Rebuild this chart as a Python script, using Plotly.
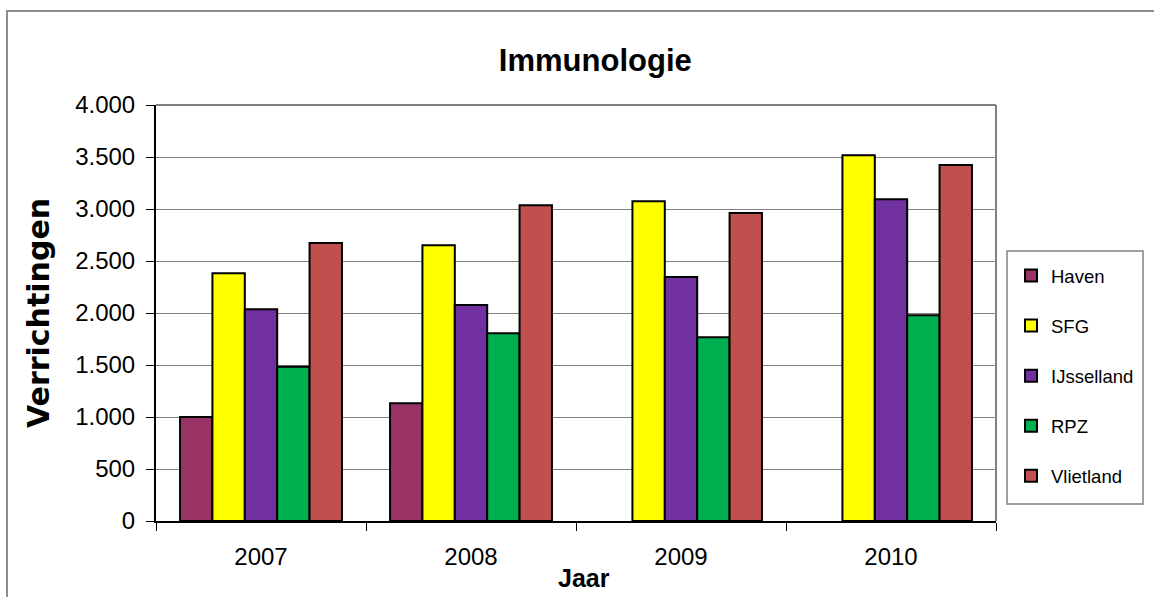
import plotly.graph_objects as go

years = ["2007", "2008", "2009", "2010"]
series_names = ["Haven", "SFG", "IJsselland", "RPZ", "Vlietland"]
haven = [1000, 1133, None, None]
sfg = [2383, 2651, 3075, 3518]
ijsselland = [2037, 2077, 2345, 3093]
rpz = [1482, 1806, 1768, 1979]
vlietland = [2672, 3036, 2961, 3422]
y_ticks = [0, 500, 1000, 1500, 2000, 2500, 3000, 3500, 4000]

colors = ["#993366", "#FFFF00", "#7030A0", "#00B050", "#C0504D"]
values = [haven, sfg, ijsselland, rpz, vlietland]

FONT = "Arial, Liberation Sans, sans-serif"

fig = go.Figure()
for name, vals, col in zip(series_names, values, colors):
    fig.add_trace(go.Bar(
        x=years, y=vals, name=name, legendgroup=name,
        marker=dict(color=col, line=dict(color="black", width=2)),
    ))

L, R, T, B = 156, 996, 105, 521
W, H = 1154, 597
pw, ph = R - L, B - T

def px(x):
    return (x - L) / pw

def py(y):
    return (B - y) / ph

fig.update_layout(
    width=W, height=H,
    margin=dict(l=L, r=W - R, t=T, b=H - B, pad=0),
    paper_bgcolor="white", plot_bgcolor="white",
    barmode="group", bargap=0.229, bargroupgap=0,
    separators=",.",
    font=dict(family=FONT, color="black"),
    title=dict(text="<b>Immunologie</b>", font=dict(size=31, family=FONT, color="black"),
               x=0.523, xanchor="center", xref="paper",
               y=1 - 60 / H, yanchor="middle", yref="container"),
    showlegend=True,
    legend=dict(x=px(1011), y=py(257), xanchor="left", yanchor="top",
                borderwidth=0, bgcolor="rgba(0,0,0,0)",
                font=dict(size=18.5, family=FONT, color="black"),
                traceorder="grouped", tracegroupgap=23,
                itemwidth=30),
    xaxis=dict(
        type="category", tickson="boundaries", ticks="outside", ticklen=8,
        tickcolor="black", tickwidth=1, showline=True, linecolor="black", linewidth=2,
        tickfont=dict(size=24, family=FONT, color="black"), ticklabelstandoff=13,
        showgrid=False, fixedrange=True,
    ),
    yaxis=dict(
        range=[0, 4000], tickvals=y_ticks, tickformat=",d", ticks="outside", ticklen=8,
        tickcolor="black", tickwidth=1, showline=True, linecolor="black", linewidth=2,
        tickfont=dict(size=24, family=FONT, color="black"), ticklabelstandoff=6,
        showgrid=True, gridcolor="#808080", gridwidth=1, zeroline=False, fixedrange=True,
    ),
    annotations=[
        dict(text="<b>Jaar</b>", xref="paper", yref="paper", x=px(584), y=py(594),
             xanchor="center", yanchor="bottom", showarrow=False,
             font=dict(size=25, family=FONT, color="black")),
        dict(text="<b>Verrichtingen</b>", xref="paper", yref="paper", x=px(38), y=py(313),
             xanchor="center", yanchor="middle", showarrow=False, textangle=-90,
             font=dict(size=30, family="DejaVu Sans", color="black")),
    ],
    shapes=[
        dict(type="line", xref="paper", yref="paper", x0=0, x1=1, y0=1, y1=1,
             line=dict(color="#808080", width=2)),
        dict(type="line", xref="paper", yref="paper", x0=1, x1=1, y0=0, y1=1,
             line=dict(color="#808080", width=2)),
        dict(type="rect", xref="paper", yref="paper", x0=px(7), y0=py(700), x1=px(1300), y1=py(11),
             line=dict(color="#8c8c8c", width=2), layer="below"),
        dict(type="rect", xref="paper", yref="paper", x0=px(1007), y0=py(504), x1=px(1143), y1=py(251),
             line=dict(color="#808080", width=1.5), layer="below"),
    ],
)

fig.write_html("out.html", config={"displayModeBar": False},
               post_script="document.body.style.margin='0';")
